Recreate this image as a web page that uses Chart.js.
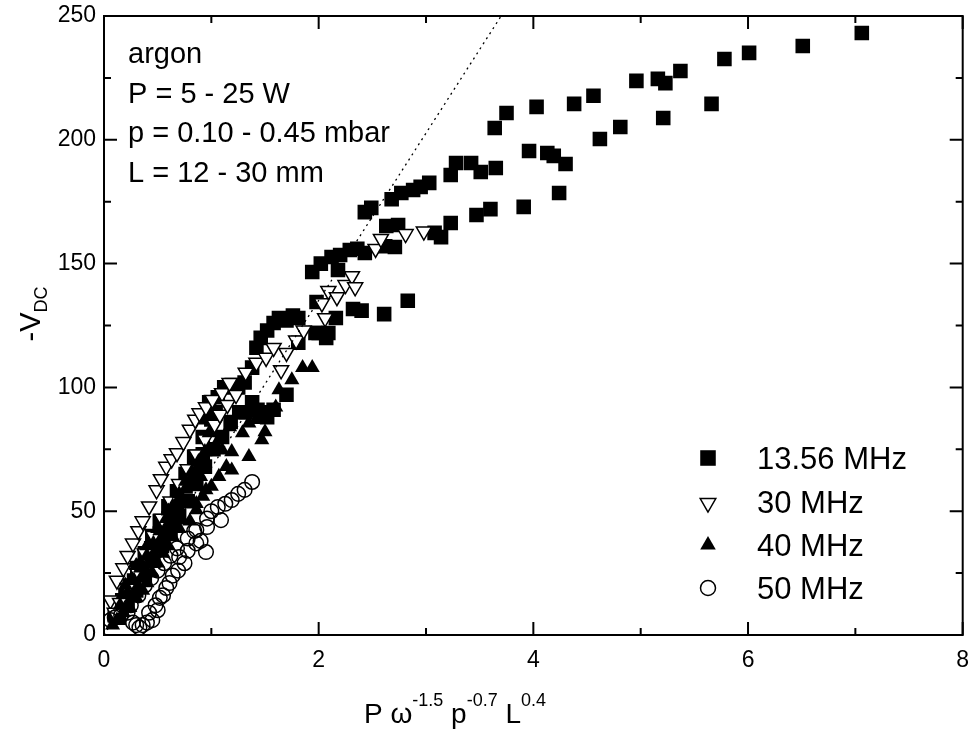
<!DOCTYPE html>
<html>
<head>
<meta charset="utf-8">
<script src="https://cdn.jsdelivr.net/npm/chart.js@4"></script>
<style>
  html, body { margin: 0; padding: 0; background: #fff; }
</style>
</head>
<body>
<canvas id="vdcChart" width="973" height="736"></canvas>
<script>
// 13.56 MHz (filled squares)
const mhz13X = [
  0.10, 0.17, 0.24, 0.31, 0.38, 0.45, 0.52, 0.60, 0.68, 0.76, 0.84, 0.92, 1.00,
  0.14, 0.22, 0.30, 0.38, 0.46, 0.54, 0.62, 0.70, 0.78, 0.86, 0.94, 1.02, 1.10, 1.18, 1.26,
  0.20, 0.28, 0.36, 0.44, 0.52, 0.60, 0.68, 0.76, 0.84, 0.92,
  0.93, 0.98, 1.04, 1.19, 1.25, 1.31, 1.32, 1.38, 1.43, 1.47, 1.52, 1.58, 1.70,
  1.06, 1.12, 1.38, 1.42, 1.46, 1.52, 1.58, 1.63, 1.70, 1.76, 1.81, 1.81, 1.97, 2.07, 2.00, 2.09, 1.98, 2.16, 2.32, 2.40, 2.61, 2.83,
  1.94, 2.02, 2.12, 2.18, 2.20, 2.29, 2.36, 2.43, 2.62, 2.71, 2.63, 2.74, 3.08, 3.14, 3.23, 3.47, 3.60, 3.91, 4.24,
  2.43, 2.49, 2.68, 2.77, 2.88, 2.95, 3.03, 3.23, 3.28, 3.42, 3.51, 3.65, 3.96, 4.13, 4.19, 4.30, 4.62, 4.81, 5.21, 5.66,
  3.64, 3.75, 4.03, 4.38, 4.56, 4.96, 5.16, 5.23, 5.37, 5.78, 6.01, 6.51, 7.06
];
const mhz13Y = [
  8, 14, 20, 27, 33, 40, 46, 52, 58, 65, 72, 80, 87,
  7, 12, 18, 24, 30, 36, 42, 48, 54, 61, 68, 75, 80, 86, 90,
  16, 22, 28, 35, 41, 47, 53, 60, 66, 73,
  88, 94, 90, 101, 100, 102, 90, 94, 91, 90, 88, 91, 97,
  96, 100, 108, 116, 120, 123, 126, 128, 127, 129, 128, 118, 122, 120, 122, 122, 134.5, 128, 131.7, 131, 129.6, 135,
  146.6, 150, 152.7, 147.4, 153.5, 155.5, 156, 154.3, 157, 156.7, 165.2, 165.6, 162.4, 160.7, 166.4, 169.6, 172, 172.9, 178.5,
  170.8, 172.5, 176, 178.5, 179.7, 181, 182.6, 185.8, 190.6, 190.6, 187, 188.6, 195.5, 194.7, 193.5, 190.2, 200.3, 205.2, 208.8, 214.5,
  204.8, 210.8, 213.3, 214.5, 217.8, 223.8, 224.6, 222.9, 227.8, 232.6, 235.1, 237.9, 243.1
];

// 30 MHz (open down triangles)
const mhz30X = [
  0.06, 0.12, 0.18, 0.22, 0.27, 0.32, 0.36, 0.42, 0.49, 0.53, 0.58, 0.63, 0.68, 0.74, 0.80, 0.85, 0.89, 0.95, 1.01, 1.10, 1.17,
  0.10, 0.15, 0.22, 0.30, 0.38, 0.46, 0.54, 0.62, 0.70, 0.78, 0.86, 0.94, 1.03, 1.08, 1.15, 1.23,
  1.32, 1.42, 1.51, 1.58, 1.65, 1.70, 1.79, 1.86, 2.03, 2.06, 2.09, 2.17, 2.25, 2.31, 2.34, 2.53, 2.58, 2.81, 2.98
];
const mhz30Y = [
  14, 22, 27, 32, 37, 42, 46, 52, 58.5, 63, 68, 71, 73.5, 78, 83, 87, 89.6, 92, 95, 97.7, 101.8,
  9, 13, 19, 26, 33, 40, 47, 54, 61, 67, 73, 79, 85, 89, 93, 97,
  106, 110, 112, 116, 107, 114, 119, 123, 134, 128, 139, 136.5, 141.4, 145, 140.5, 156, 160, 162, 163
];

// 40 MHz (filled up triangles)
const mhz40X = [
  0.08, 0.12, 0.18, 0.24, 0.30, 0.36, 0.40, 0.45, 0.50, 0.55, 0.60, 0.64, 0.70, 0.73, 0.80, 0.86, 0.86, 0.92, 0.95, 1.00,
  1.07, 1.14, 1.19, 1.19, 1.10, 1.07, 0.98, 1.17, 1.29, 1.35, 1.35, 1.42, 1.47, 1.50, 1.60, 1.63, 1.75, 1.85, 1.94,
  0.15, 0.22, 0.28, 0.34, 0.40, 0.46, 0.52, 0.58, 0.64, 0.70, 0.76, 0.82, 0.88, 0.94,
  0.20, 0.30, 0.40, 0.50, 0.60, 0.70, 0.80, 0.90
];
const mhz40Y = [
  4, 6, 9, 11, 15, 18, 21, 25, 29, 33, 36, 39.6, 43, 46.4, 46, 50.5, 53, 56, 58.6, 60,
  64, 68, 66.6, 74, 74.7, 79, 81.6, 84, 81.6, 72, 85.6, 87, 78.8, 82, 92, 99, 103, 108, 108,
  12, 17, 22, 27, 32, 37, 42, 47, 52, 57, 62, 66, 70, 74,
  20, 28, 36, 43, 50, 55, 60, 64
];

// 50 MHz (open circles)
const mhz50X = [
  0.06, 0.10, 0.16, 0.22, 0.27, 0.30, 0.33, 0.36, 0.40, 0.45, 0.42, 0.48, 0.50, 0.52, 0.55, 0.58, 0.61, 0.64, 0.69,
  0.70, 0.75, 0.78, 0.78, 0.84, 0.86, 0.86, 0.90, 0.95, 0.96, 0.96, 1.00, 1.06, 1.09, 1.13, 1.19, 1.25, 1.31, 1.38,
  0.25, 0.32, 0.38, 0.44, 0.50, 0.56, 0.62, 0.68
];
const mhz50Y = [
  6, 7, 8, 9, 5, 4, 3, 4, 5, 6, 9, 12, 10, 15, 16, 19, 21, 24, 26,
  31.5, 29, 34, 39, 42, 37, 42.4, 38, 33.5, 43.6, 47, 50, 51.7, 46.4, 53, 54.5, 57, 58.6, 61.8,
  12, 16, 20, 23, 26, 29, 32, 35
];

// dotted guide line
const fitX = [0, 3.7];
const fitY = [0, 250];

const xTicks = [0, 1, 2, 3, 4, 5, 6, 7, 8];
const yTicks = [0, 25, 50, 75, 100, 125, 150, 175, 200, 225, 250];

const infoLines = ["argon", "P = 5 - 25 W", "p = 0.10 - 0.45 mbar", "L = 12 - 30 mm"];
const seriesNames = ["13.56 MHz", "30 MHz", "40 MHz", "50 MHz"];

const FONT = '"Liberation Sans", Arial, sans-serif';

function toPoints(xs, ys) {
  return xs.map((x, i) => ({ x: x, y: ys[i] }));
}

const legendMarks = [
  { pointStyle: "rect", radius: 11, rotation: 0, fill: "#000", borderWidth: 0 },
  { pointStyle: "triangle", radius: 9, rotation: 180, fill: "#fff", borderWidth: 1.5 },
  { pointStyle: "triangle", radius: 9, rotation: 0, fill: "#000", borderWidth: 0 },
  { pointStyle: "circle", radius: 7.5, rotation: 0, fill: "rgba(0,0,0,0)", borderWidth: 1.5 }
];

function drawParts(ctx, parts, x, y) {
  // parts: [text, size, dy]
  let cx = x;
  parts.forEach(p => {
    ctx.font = p[1] + "px " + FONT;
    ctx.fillText(p[0], cx, y + p[2]);
    cx += ctx.measureText(p[0]).width;
  });
}

function partsWidth(ctx, parts) {
  let w = 0;
  parts.forEach(p => {
    ctx.font = p[1] + "px " + FONT;
    w += ctx.measureText(p[0]).width;
  });
  return w;
}

const decorPlugin = {
  id: "decor",
  afterDatasetsDraw(chart) {
    const { ctx, chartArea: a, scales: { x, y } } = chart;
    ctx.save();
    ctx.strokeStyle = "#000";
    ctx.lineWidth = 2;
    ctx.strokeRect(a.left, a.top, a.right - a.left, a.bottom - a.top);

    // inward ticks on all four sides
    ctx.beginPath();
    xTicks.forEach(v => {
      const px = x.getPixelForValue(v);
      const len = v % 2 === 0 ? 13 : 7;
      ctx.moveTo(px, a.bottom); ctx.lineTo(px, a.bottom - len);
      ctx.moveTo(px, a.top); ctx.lineTo(px, a.top + len);
    });
    yTicks.forEach(v => {
      const py = y.getPixelForValue(v);
      const len = v % 50 === 0 ? 13 : 7;
      ctx.moveTo(a.left, py); ctx.lineTo(a.left + len, py);
      ctx.moveTo(a.right, py); ctx.lineTo(a.right - len, py);
    });
    ctx.stroke();

    // info text
    ctx.fillStyle = "#000";
    ctx.textBaseline = "alphabetic";
    ctx.textAlign = "left";
    ctx.font = "29px " + FONT;
    const infoBase = [63, 103, 142, 182];
    infoLines.forEach((t, i) => ctx.fillText(t, 128, infoBase[i]));

    // legend
    const legY = [458, 503, 545, 588];
    const legBase = [469, 513, 556, 599];
    ctx.font = "31px " + FONT;
    seriesNames.forEach((name, i) => {
      const m = legendMarks[i];
      ctx.fillStyle = m.fill;
      ctx.strokeStyle = "#000";
      ctx.lineWidth = m.borderWidth;
      Chart.helpers.drawPoint(ctx, m, 708, legY[i]);
      ctx.fillStyle = "#000";
      ctx.fillText(name, 757, legBase[i]);
    });

    // x axis title
    const xParts = [["P ω", 28, 0], ["-1.5", 18, -17], [" p", 28, 0], ["-0.7", 18, -17], [" L", 28, 0], ["0.4", 18, -17]];
    const w = partsWidth(ctx, xParts);
    drawParts(ctx, xParts, 455 - w / 2, 723);

    // y axis title (rotated)
    const yParts = [["-V", 29, 0], ["DC", 18, 7]];
    const wy = partsWidth(ctx, yParts);
    ctx.translate(40, 314);
    ctx.rotate(-Math.PI / 2);
    drawParts(ctx, yParts, -wy / 2, 0);
    ctx.restore();
  }
};

const ctx = document.getElementById("vdcChart").getContext("2d");

new Chart(ctx, {
  type: "scatter",
  data: {
    datasets: [
      {
        label: seriesNames[0],
        data: toPoints(mhz13X, mhz13Y),
        pointStyle: "rect",
        pointRadius: 10.3,
        backgroundColor: "#000",
        borderColor: "#000",
        borderWidth: 0,
        order: 4
      },
      {
        label: seriesNames[1],
        data: toPoints(mhz30X, mhz30Y),
        pointStyle: "triangle",
        pointRotation: 180,
        pointRadius: 8.7,
        backgroundColor: "#fff",
        borderColor: "#000",
        borderWidth: 1.5,
        order: 3
      },
      {
        label: seriesNames[2],
        data: toPoints(mhz40X, mhz40Y),
        pointStyle: "triangle",
        pointRadius: 8.7,
        backgroundColor: "#000",
        borderColor: "#000",
        borderWidth: 0,
        order: 2
      },
      {
        label: seriesNames[3],
        data: toPoints(mhz50X, mhz50Y),
        pointStyle: "circle",
        pointRadius: 7.3,
        backgroundColor: "rgba(0,0,0,0)",
        borderColor: "#000",
        borderWidth: 1.5,
        order: 1
      },
      {
        type: "line",
        label: "fit",
        data: toPoints(fitX, fitY),
        borderColor: "#000",
        borderWidth: 1.3,
        borderDash: [2, 4],
        pointRadius: 0,
        fill: false,
        order: 0
      }
    ]
  },
  options: {
    responsive: false,
    animation: false,
    events: [],
    layout: { padding: { left: 0, right: 5, top: 16, bottom: 0 } },
    plugins: {
      legend: { display: false },
      tooltip: { enabled: false }
    },
    scales: {
      x: {
        type: "linear",
        min: 0,
        max: 8,
        grid: { display: false, drawTicks: false },
        border: { display: false },
        ticks: {
          stepSize: 2,
          padding: 12,
          color: "#000",
          font: { family: FONT, size: 23 },
          maxRotation: 0
        },
        afterFit(scale) {
          scale.height = 101;
          scale.paddingLeft = 0;
          scale.paddingRight = 0;
        }
      },
      y: {
        type: "linear",
        min: 0,
        max: 250,
        grid: { display: false, drawTicks: false },
        border: { display: false },
        ticks: {
          stepSize: 50,
          padding: 8,
          color: "#000",
          font: { family: FONT, size: 23 }
        },
        afterFit(scale) {
          scale.width = 104;
          scale.paddingTop = 0;
          scale.paddingBottom = 0;
        }
      }
    }
  },
  plugins: [decorPlugin]
});
</script>
</body>
</html>
